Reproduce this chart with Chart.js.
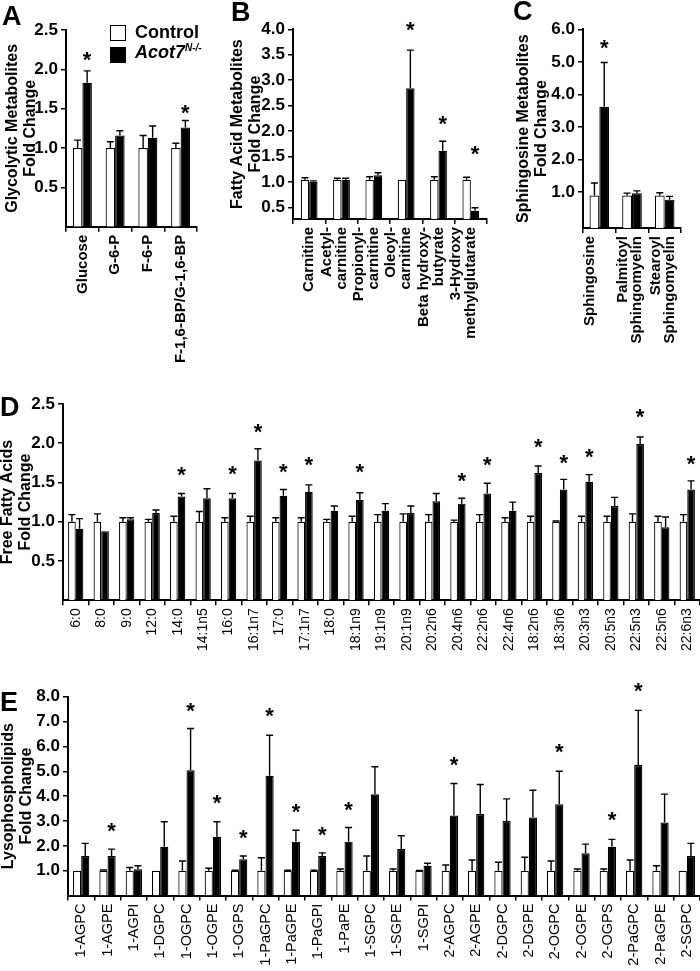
<!DOCTYPE html>
<html>
<head>
<meta charset="utf-8">
<script src="https://cdn.jsdelivr.net/npm/chart.js@4.4.1/dist/chart.umd.min.js"></script>
<style>
  body { margin: 0; background: #fff; }
  #fig { position: relative; width: 700px; height: 971px; overflow: hidden; font-family: 'Liberation Sans', Arial, sans-serif; color: #000; }
  #fig canvas { position: absolute; }
  .letter { position: absolute; font-size: 27px; font-weight: bold; line-height: 27px; }
  .key { position: absolute; font-size: 18px; font-weight: bold; line-height: 18px; white-space: nowrap; }
  .swatch { position: absolute; box-sizing: border-box; width: 16px; height: 16px; border: 1.5px solid #000; }
</style>
</head>
<body>
<div id="fig">
  <canvas id="chartA"></canvas>
  <canvas id="chartB"></canvas>
  <canvas id="chartC"></canvas>
  <canvas id="chartD"></canvas>
  <canvas id="chartE"></canvas>

  <div class="letter" style="left:2px;top:3px">A</div>
  <div class="letter" style="left:231px;top:-1px">B</div>
  <div class="letter" style="left:513px;top:-2px">C</div>
  <div class="letter" style="left:0px;top:394px">D</div>
  <div class="letter" style="left:0px;top:689px">E</div>

  <div class="swatch" style="left:110px;top:25px;background:#fff"></div>
  <div class="key" style="left:135px;top:23px">Control</div>
  <div class="swatch" style="left:110px;top:47px;background:#000"></div>
  <div class="key" style="left:135px;top:43px"><i>Acot7</i><i style="font-size:10px;position:relative;top:-7px">N-/-</i></div>
</div>
<script>
// ---- Panel A: glycolytic metabolites
const aLabels = ['Glucose', 'G-6-P', 'F-6-P', 'F-1,6-BP/G-1,6-BP'];
const aControl = [1, 1, 1, 1];
const aControlErr = [0.10, 0.08, 0.16, 0.06];
const aKO = [1.83, 1.16, 1.13, 1.26];
const aKOErr = [0.15, 0.06, 0.15, 0.09];
const aStars = [2.19, null, null, 1.52];
const aTicks = [0.5, 1.0, 1.5, 2.0, 2.5];

// ---- Panel B: fatty acid metabolites
const bLabels = [['\u00a0', 'Carnitine'], ['Acetyl-', 'carnitine'], ['Propionyl-', 'carnitine'], ['Oleoyl-', 'carnitine'], ['Beta hydroxy-', 'butyrate'], ['3-Hydroxy', 'methylglutarate']];
const bControl = [1.04, 1.04, 1.04, 1.04, 1.04, 1.04];
const bControlErr = [0.04, 0.03, 0.06, 0, 0.06, 0.05];
const bKO = [1.0, 1.04, 1.13, 2.84, 1.61, 0.43];
const bKOErr = [0.02, 0.03, 0.05, 0.75, 0.19, 0.06];
const bStars = [null, null, null, 4.1, 2.25, 1.65];
const bTicks = [0.5, 1.0, 1.5, 2.0, 2.5, 3.0, 3.5, 4.0];

// ---- Panel C: sphingosine metabolites
const cLabels = ['Sphingosine', ['Palmitoyl', 'Sphingomyelin'], ['Stearoyl', 'Sphingomyelin']];
const cControl = [0.9, 0.9, 0.9];
const cControlErr = [0.38, 0.07, 0.08];
const cKO = [3.62, 0.97, 0.77];
const cKOErr = [1.36, 0.07, 0.1];
const cStars = [5.6, null, null];
const cTicks = [1.0, 2.0, 3.0, 4.0, 5.0, 6.0];

// ---- Panel D: free fatty acids
const dLabels = ['6:0', '8:0', '9:0', '12:0', '14:0', '14:1n5', '16:0', '16:1n7', '17:0', '17:1n7', '18:0', '18:1n9', '19:1n9',
  '20:1n9', '20:2n6', '20:4n6', '22:2n6', '22:4n6', '18:2n6', '18:3n6', '20:3n3', '20:5n3', '22:5n3', '22:5n6', '22:6n3'];
const dControl = [1, 1, 1, 1, 1, 1, 1, 1, 1, 1, 1, 1, 1, 1, 1, 1, 1, 1, 1, 1, 1, 1, 1, 1, 1];
const dControlErr = [0.09, 0.10, 0.05, 0.03, 0.07, 0.13, 0.05, 0.07, 0.05, 0.05, 0.03, 0.07, 0.09,
  0.10, 0.09, 0.02, 0.09, 0.05, 0.07, 0.01, 0.07, 0.07, 0.10, 0.07, 0.09];
const dKO = [0.91, 0.88, 1.03, 1.11, 1.32, 1.30, 1.30, 1.78, 1.33, 1.38, 1.14, 1.28, 1.14,
  1.11, 1.26, 1.23, 1.36, 1.14, 1.62, 1.41, 1.51, 1.20, 1.99, 0.93, 1.41];
const dKOErr = [0.13, 0, 0.02, 0.04, 0.04, 0.12, 0.06, 0.15, 0.08, 0.09, 0.06, 0.09, 0.09,
  0.09, 0.10, 0.07, 0.13, 0.11, 0.09, 0.13, 0.09, 0.11, 0.09, 0.13, 0.11];
const dStars = [null, null, null, null, 1.67, null, 1.68, 2.21, 1.70, 1.79, null, 1.70, null,
  null, null, 1.59, 1.79, null, 2.02, 1.82, 1.90, null, 2.41, null, 1.81];
const dTicks = [0.5, 1.0, 1.5, 2.0, 2.5];

// ---- Panel E: lysophospholipids
const eLabels = ['1-AGPC', '1-AGPE', '1-AGPI', '1-DGPC', '1-OGPC', '1-OGPE', '1-OGPS', '1-PaGPC', '1-PaGPE', '1-PaGPI', '1-PaPE', '1-SGPC',
  '1-SGPE', '1-SGPI', '2-AGPC', '2-AGPE', '2-DGPC', '2-DGPE', '2-OGPC', '2-OGPE', '2-OGPS', '2-PaGPC', '2-PaGPE', '2-SGPC'];
const eControl = [1, 1, 1, 1, 1, 1, 1, 1, 1, 1, 1, 1, 1, 1, 1, 1, 1, 1, 1, 1, 1, 1, 1, 1];
const eControlErr = [0, 0.03, 0.13, 0, 0.39, 0.1, 0.02, 0.52, 0.02, 0.02, 0.07, 0.59,
  0.07, 0.01, 0.23, 0.43, 0.34, 0.54, 0.39, 0.07, 0.07, 0.43, 0.2, 0];
const eKO = [1.59, 1.59, 1.06, 1.96, 5.04, 2.37, 1.46, 4.82, 2.17, 1.59, 2.17, 4.08,
  1.87, 1.20, 3.22, 3.28, 3.0, 3.14, 3.67, 1.70, 1.96, 5.25, 2.94, 1.59];
const eKOErr = [0.51, 0.28, 0.14, 1.01, 1.68, 0.6, 0.13, 1.63, 0.46, 0.13, 0.57, 1.1,
  0.54, 0.1, 1.29, 1.19, 0.89, 1.1, 1.33, 0.37, 0.3, 2.2, 1.14, 0.51];
const eStars = [null, 2.81, null, null, 7.65, 3.93, 2.54, 7.43, 3.57, 2.67, 3.68, null,
  null, null, 5.47, null, null, null, 5.98, null, 3.26, 8.45, null, null];
const eTicks = [1.0, 2.0, 3.0, 4.0, 5.0, 6.0, 7.0, 8.0];

Chart.defaults.font.family = "'Liberation Sans', Arial, Helvetica, sans-serif";
Chart.defaults.color = '#000';

// error bars (upward only) and significance stars
const errorBars = {
  id: 'errorBars',
  afterDatasetsDraw(chart, args, opts) {
    const ctx = chart.ctx;
    const y = chart.scales.y;
    ctx.save();
    ctx.strokeStyle = '#000';
    ctx.lineWidth = 1.4;
    chart.data.datasets.forEach((ds, i) => {
      const meta = chart.getDatasetMeta(i);
      meta.data.forEach((bar, j) => {
        const e = ds.errors[j];
        if (!e) return;
        const top = y.getPixelForValue(ds.data[j] + e);
        ctx.beginPath();
        ctx.moveTo(bar.x, bar.y);
        ctx.lineTo(bar.x, top);
        ctx.moveTo(bar.x - 3.5, top);
        ctx.lineTo(bar.x + 3.5, top);
        ctx.stroke();
      });
    });
    const ko = chart.getDatasetMeta(1);
    const size = 22;
    ctx.fillStyle = '#000';
    ctx.font = 'bold ' + size + 'px "Liberation Sans", Arial, sans-serif';
    ctx.textAlign = 'center';
    ctx.textBaseline = 'alphabetic';
    (opts.stars || []).forEach((s, j) => {
      if (s == null) return;
      ctx.fillText('*', ko.data[j].x, y.getPixelForValue(s) + 0.57 * size);
    });
    ctx.restore();
  }
};

function panel(id, o) {
  const cv = document.getElementById(id);
  cv.width = o.canvas.w;
  cv.height = o.canvas.h;
  cv.style.left = o.canvas.x + 'px';
  cv.style.top = o.canvas.y + 'px';
  const yW = o.area.l - o.canvas.x;
  const xH = o.canvas.y + o.canvas.h - o.area.b;
  const padTop = o.area.t - o.canvas.y;
  const padRight = o.canvas.x + o.canvas.w - o.area.r;

  const ctrl = { label: 'Control', data: o.control, errors: o.controlErr, backgroundColor: '#fff',
    borderColor: '#000', borderWidth: 1.2, barPercentage: 1, categoryPercentage: o.catPct };
  const ko = { label: 'Acot7N-/-', data: o.ko, errors: o.koErr, backgroundColor: '#000',
    borderColor: '#000', borderWidth: 1.2, barPercentage: 1, categoryPercentage: o.catPct };
  if (o.base != null) { ctrl.base = o.base; ko.base = o.base; }

  return new Chart(cv, {
    type: 'bar',
    data: { labels: o.labels, datasets: [ctrl, ko] },
    options: {
      responsive: false,
      animation: false,
      layout: { padding: { top: padTop, right: padRight, bottom: 0, left: 0 } },
      plugins: { legend: { display: false }, tooltip: { enabled: false }, errorBars: { stars: o.stars } },
      scales: {
        x: {
          grid: { offset: true, drawOnChartArea: false, tickLength: 5, color: '#000', lineWidth: 1.5 },
          border: { color: '#000', width: 2 },
          ticks: { autoSkip: false, minRotation: 90, maxRotation: 90, padding: 3, labelOffset: o.labelOffset || 0,
            font: o.xFont, color: '#000' },
          afterFit: s => { s.height = xH; s.paddingLeft = 0; s.paddingRight = 0; }
        },
        y: {
          min: o.min, max: o.max,
          grid: { drawOnChartArea: false, tickLength: 5, color: '#000', lineWidth: 1.5 },
          border: { color: '#000', width: 2 },
          ticks: { padding: 3, font: { size: 17, weight: 'bold' }, color: '#000', callback: v => v.toFixed(1) },
          afterBuildTicks: s => { s.ticks = o.ticks.map(v => ({ value: v })); },
          afterFit: s => { s.width = yW; s.paddingTop = 0; s.paddingBottom = 0; },
          title: { display: true, text: o.title, color: '#000', font: { size: 16, weight: 'bold', lineHeight: 1.15 },
            padding: { top: o.titlePad, bottom: 0 } }
        }
      }
    },
    plugins: [errorBars]
  });
}

panel('chartA', {
  labels: aLabels, control: aControl, controlErr: aControlErr, ko: aKO, koErr: aKOErr, stars: aStars,
  ticks: aTicks, min: 0, max: 2.5, title: ['Glycolytic Metabolites', 'Fold Change'], titlePad: 3,
  area: { l: 66, t: 30, r: 197, b: 226.7 }, canvas: { x: 0, y: 18, w: 201, h: 352 },
  catPct: 0.58, xFont: { size: 15, weight: 'bold' }
});

panel('chartB', {
  labels: bLabels, control: bControl, controlErr: bControlErr, ko: bKO, koErr: bKOErr, stars: bStars,
  ticks: bTicks, min: 0.27, max: 4.0, title: ['Fatty Acid Metabolites', 'Fold Change'], titlePad: 2,
  area: { l: 293, t: 29.3, r: 487, b: 219 }, canvas: { x: 226, y: 10, w: 265, h: 360 },
  catPct: 0.52, xFont: { size: 15, weight: 'bold', lineHeight: 1.0 }, labelOffset: -15
});

panel('chartC', {
  labels: cLabels, control: cControl, controlErr: cControlErr, ko: cKO, koErr: cKOErr, stars: cStars,
  ticks: cTicks, min: -0.1, max: 6.0, base: -0.1, title: ['Sphingosine Metabolites', 'Fold Change'], titlePad: 2,
  area: { l: 583, t: 29.3, r: 681, b: 228 }, canvas: { x: 512, y: 10, w: 188, h: 360 },
  catPct: 0.6, xFont: { size: 15, weight: 'bold', lineHeight: 0.95 }, labelOffset: -9
});

panel('chartD', {
  labels: dLabels, control: dControl, controlErr: dControlErr, ko: dKO, koErr: dKOErr, stars: dStars,
  ticks: dTicks, min: 0, max: 2.5, title: ['Free Fatty Acids', 'Fold Change'], titlePad: 0,
  area: { l: 63, t: 404, r: 700, b: 600.2 }, canvas: { x: -2, y: 392, w: 702, h: 270 },
  catPct: 0.6, xFont: { size: 14 }
});

panel('chartE', {
  labels: eLabels, control: eControl, controlErr: eControlErr, ko: eKO, koErr: eKOErr, stars: eStars,
  ticks: eTicks, min: 0, max: 8.0, title: ['Lysophospholipids', 'Fold Change'], titlePad: 0,
  area: { l: 68, t: 696.7, r: 700, b: 895.6 }, canvas: { x: -1, y: 674, w: 701, h: 297 },
  catPct: 0.62, xFont: { size: 14.5 }
});
</script>
</body>
</html>
